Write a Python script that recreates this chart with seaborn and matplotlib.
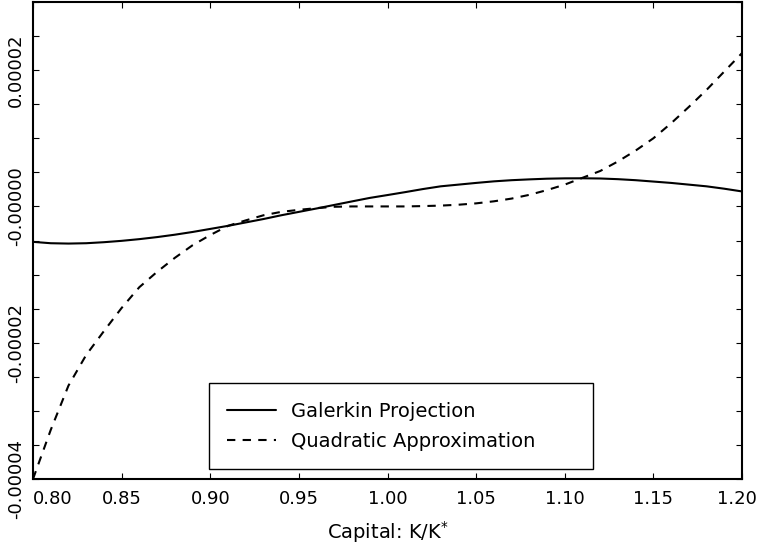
import numpy as np
import pandas as pd
import matplotlib.pyplot as plt
import matplotlib.transforms as mtransforms
import seaborn as sns


# capital grid K/K* and the two error curves (units of 1e-6)
capital = [0.80, 0.81, 0.82, 0.83, 0.84, 0.85, 0.86, 0.87, 0.88, 0.89,
           0.90, 0.91, 0.92, 0.93, 0.94, 0.95, 0.96, 0.97, 0.98, 0.99,
           1.00, 1.01, 1.02, 1.03, 1.04, 1.05, 1.06, 1.07, 1.08, 1.09,
           1.10, 1.11, 1.12, 1.13, 1.14, 1.15, 1.16, 1.17, 1.18, 1.19, 1.20]
galerkin = [-5.2, -5.4, -5.45, -5.4, -5.25, -5.05, -4.8, -4.5, -4.15, -3.75,
            -3.3, -2.85, -2.35, -1.85, -1.3, -0.8, -0.3, 0.22, 0.74, 1.25,
            1.67, 2.1, 2.55, 2.95, 3.2, 3.45, 3.68, 3.85, 3.97, 4.07,
            4.12, 4.13, 4.1, 4.0, 3.85, 3.65, 3.45, 3.2, 2.95, 2.6, 2.2]
quadratic = [-40.0, -32.8, -26.3, -21.8, -18.3, -14.9, -11.85, -9.6, -7.55, -5.7,
             -4.2, -2.85, -2.05, -1.3, -0.8, -0.5, -0.25, -0.05, 0.0, 0.0,
             0.0, 0.0, 0.05, 0.12, 0.25, 0.45, 0.75, 1.15, 1.7, 2.4,
             3.2, 4.2, 5.2, 6.6, 8.2, 10.0, 12.2, 14.6, 17.1, 19.8, 22.5]

xticks = [0.80, 0.85, 0.90, 0.95, 1.00, 1.05, 1.10, 1.15, 1.20]
yticks = [-0.00004, -0.00002, 0.0, 0.00002]
ytick_labels = ['-0.00004', '-0.00002', '-0.00000', '0.00002']

df = pd.DataFrame({'K': capital,
                   'Galerkin Projection': np.array(galerkin) * 1e-6,
                   'Quadratic Approximation': np.array(quadratic) * 1e-6})

sns.set_theme(style='ticks')
plt.rcParams['font.family'] = ['DejaVu Sans']
plt.rcParams['text.color'] = 'black'
plt.rcParams['axes.labelcolor'] = 'black'
plt.rcParams['xtick.color'] = 'black'
plt.rcParams['ytick.color'] = 'black'

fig = plt.figure(figsize=(7.6, 5.46), dpi=100)
ax = fig.add_axes([33 / 760, 1 - 479 / 546, 709 / 760, 477 / 546])

sns.lineplot(data=df, x='K', y='Galerkin Projection', color='black', lw=1.5,
             label='Galerkin Projection', ax=ax)
sns.lineplot(data=df, x='K', y='Quadratic Approximation', color='black', lw=1.5,
             linestyle=(0, (4, 3.5)), label='Quadratic Approximation', ax=ax)

ax.set_xlim(0.8, 1.2)
ax.set_ylim(-0.00004, 0.00003)
ax.set_xticks(xticks, labels=[f'{v:.2f}' for v in xticks])
ax.set_yticks(yticks, labels=ytick_labels)
ax.set_yticks(np.arange(-0.00004, 0.0000301, 0.000005), minor=True)
ax.tick_params(axis='both', which='both', direction='in', top=True, right=True,
               length=4.5, width=0.8, color='black')
ax.tick_params(axis='x', labelsize=13, pad=8, labelcolor='black')
ax.tick_params(axis='y', labelsize=13, pad=6, labelcolor='black')
for lab in ax.get_yticklabels():
    lab.set_rotation(90)
    lab.set_va('center')

# IDL nudges the end labels so they stay inside the page
xlabs = ax.get_xticklabels()
xlabs[0].set_ha('left')
xlabs[-1].set_transform(xlabs[-1].get_transform() +
                        mtransforms.ScaledTranslation(-0.05, 0, fig.dpi_scale_trans))

for sp in ax.spines.values():
    sp.set_linewidth(1.5)
    sp.set_color('black')

ax.set_xlabel(r'Capital: K/K$^{*}$', fontsize=14, labelpad=8)
ax.set_ylabel('')

leg = ax.legend(loc='lower left', bbox_to_anchor=(0.248, 0.021, 0.542, 0.18),
                mode='expand', borderaxespad=0, fontsize=14, fancybox=False,
                framealpha=1, edgecolor='black', handlelength=2.5,
                handletextpad=0.8, labelspacing=0.55, borderpad=0.95)
leg.get_frame().set_linewidth(1.0)

fig.savefig('out.png', dpi=100)
